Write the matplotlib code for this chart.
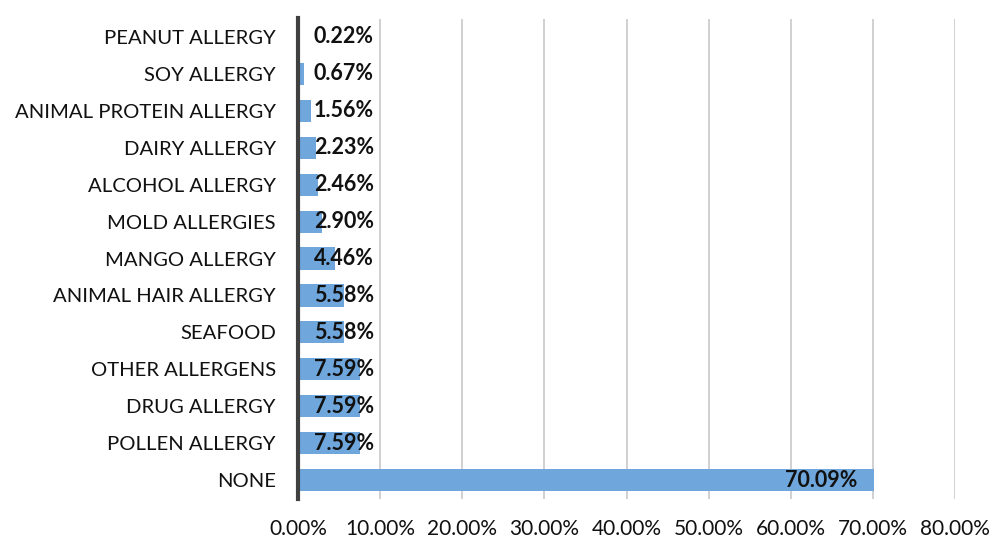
import matplotlib
matplotlib.use("Agg")
import matplotlib.pyplot as plt
from matplotlib.ticker import FuncFormatter, MultipleLocator

categories = [
    "PEANUT ALLERGY", "SOY ALLERGY", "ANIMAL PROTEIN ALLERGY", "DAIRY ALLERGY",
    "ALCOHOL ALLERGY", "MOLD ALLERGIES", "MANGO ALLERGY", "ANIMAL HAIR ALLERGY",
    "SEAFOOD", "OTHER ALLERGENS", "DRUG ALLERGY", "POLLEN ALLERGY", "NONE",
]
values = [0.22, 0.67, 1.56, 2.23, 2.46, 2.90, 4.46, 5.58, 5.58, 7.59, 7.59, 7.59, 70.09]

plt.rcParams["font.family"] = ["Lato", "DejaVu Sans"]

fig = plt.figure(figsize=(9.92, 5.38), dpi=100)
ax = fig.add_axes([298 / 992, 1 - 498.5 / 538, (955 - 298) / 992, (498.5 - 18.5) / 538])

ypos = list(range(len(categories)))
ax.barh(ypos, values, height=0.6, color="#6fa7dc", zorder=3)
ax.set_ylim(len(categories) - 0.5, -0.5)
ax.set_yticks(ypos)
ax.set_yticklabels(categories, fontsize=14.6, color="#111111")
ax.set_xlim(0, 80)
ax.xaxis.set_major_locator(MultipleLocator(10))
ax.xaxis.set_major_formatter(FuncFormatter(lambda v, p: f"{v:.2f}%"))
ax.tick_params(axis="x", labelsize=15, colors="#111111", length=0, pad=15)
ax.tick_params(axis="y", length=0, pad=16)

ax.grid(axis="x", color="#c8c8c8", linewidth=1.2, zorder=0)
for s in ("top", "right", "bottom"):
    ax.spines[s].set_visible(False)
ax.spines["left"].set_color("#404040")
ax.spines["left"].set_linewidth(3)
ax.spines["left"].set_zorder(4)

for y, v in zip(ypos, values):
    x = max(v - 2.0, 9.25)
    ax.text(x, y, f"{v:.2f}%", ha="right", va="center", fontsize=15.5,
            fontweight="bold", color="#111111", zorder=5)

fig.savefig("out.png", dpi=100)
